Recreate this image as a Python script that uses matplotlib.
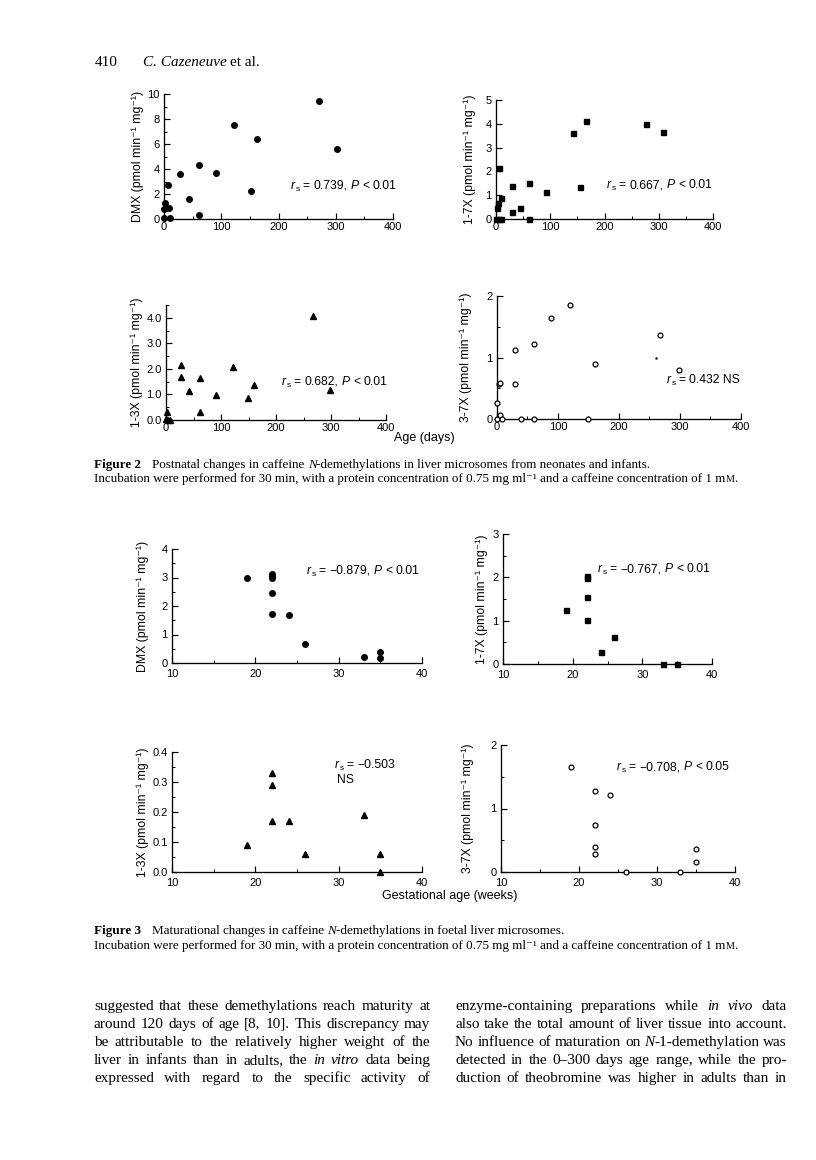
import numpy as np
import matplotlib
matplotlib.use('Agg')
import matplotlib.pyplot as plt
from matplotlib.ticker import MultipleLocator, FormatStrFormatter

W, H = 816, 1160
SANS = ['Liberation Sans', 'DejaVu Sans']
SERIF = ['Liberation Serif', 'DejaVu Serif']
plt.rcParams['font.family'] = SANS

# ---------------- Figure 2 data (postnatal age, days) ----------------
dmx_age = [0, 0, 2, 4, 7, 9, 10, 28, 44, 62, 62, 91, 122, 152, 163, 271, 302]
dmx_val = [0.8, 0.05, 1.25, 0.9, 2.7, 0.9, 0.05, 3.6, 1.6, 4.35, 0.33, 3.68, 7.5, 2.26, 6.4, 9.44, 5.62]

x17_age = [1, 3, 6, 9, 0, 5, 9, 29, 29, 44, 61, 61, 93, 142, 155, 165, 277, 308]
x17_val = [0.46, 0.67, 2.15, 0.88, 0.0, 0.0, 0.0, 1.37, 0.29, 0.46, 1.5, 0.0, 1.13, 3.6, 1.34, 4.13, 4.0, 3.65]

x13_age = [2, 0, 4, 8, 28, 28, 42, 61, 61, 91, 121, 149, 160, 268, 299]
x13_val = [0.3, 0.05, 0.0, 0.0, 2.15, 1.67, 1.13, 1.64, 0.3, 0.96, 2.06, 0.87, 1.35, 4.06, 1.17]

x37_age = [0, 0, 3, 5, 5, 8, 29, 29, 40, 60, 60, 89, 119, 150, 160, 268, 298]
x37_val = [0.26, 0.0, 0.57, 0.58, 0.07, 0.0, 1.12, 0.57, 0.0, 1.22, 0.0, 1.65, 1.85, 0.0, 0.9, 1.37, 0.8]
x37_faint_age = [261]
x37_faint_val = [1.0]

# ---------------- Figure 3 data (gestational age, weeks) ----------------
f_dmx_ga = [19, 22, 22, 22, 22, 22, 24, 26, 33, 35, 35]
f_dmx_val = [3.0, 3.13, 3.05, 3.0, 2.46, 1.73, 1.67, 0.67, 0.2, 0.4, 0.18]

f_x17_ga = [19, 22, 22, 22, 22, 24, 26, 33, 35]
f_x17_val = [1.25, 2.04, 1.98, 1.54, 1.02, 0.27, 0.62, 0.0, 0.0]

f_x13_ga = [19, 22, 22, 22, 24, 26, 33, 35, 35]
f_x13_val = [0.09, 0.33, 0.29, 0.17, 0.17, 0.06, 0.19, 0.06, 0.0]

f_x37_ga = [19, 22, 22, 22, 22, 24, 26, 33, 35, 35]
f_x37_val = [1.66, 1.27, 0.74, 0.40, 0.29, 1.22, 0.0, 0.0, 0.36, 0.16]

fig = plt.figure(figsize=(W / 100, H / 100), dpi=100)
fig.patch.set_facecolor('white')
renderer = fig.canvas.get_renderer()


def fx(px):
    return px / W


def fy(py):
    return 1 - py / H


def make_ax(x0, x1, ytop, ybot, xlim, ylim, xmaj, xmin, ymaj, ymin, yfmt, xpad=2.5):
    ax = fig.add_axes([fx(x0), fy(ybot), (x1 - x0) / W, (ybot - ytop) / H])
    ax.set_xlim(*xlim)
    ax.set_ylim(*ylim)
    ax.set_facecolor('none')
    for s in ['top', 'right']:
        ax.spines[s].set_visible(False)
    for s in ['left', 'bottom']:
        ax.spines[s].set_linewidth(0.95)
    ax.xaxis.set_major_locator(MultipleLocator(xmaj))
    ax.xaxis.set_minor_locator(MultipleLocator(xmin))
    ax.yaxis.set_major_locator(MultipleLocator(ymaj))
    if ymin:
        ax.yaxis.set_minor_locator(MultipleLocator(ymin))
    ax.yaxis.set_major_formatter(FormatStrFormatter(yfmt))
    ax.tick_params(which='major', direction='in', length=4, width=0.85, labelsize=8)
    ax.tick_params(axis='x', which='major', pad=xpad)
    ax.tick_params(axis='y', which='major', pad=3)
    ax.tick_params(which='minor', direction='in', length=2.5, width=0.75)
    return ax


def ylabel(text, x, ytop, ybot):
    fig.text(fx(x), fy((ytop + ybot) / 2), text, rotation=90, ha='center',
             va='center', fontsize=8.8, family=SANS)


def text_width(t):
    return t.get_window_extent(renderer).width


def place(x, y, tokens):
    """tokens: (text, kwargs, gap_after_px); kwargs may hold 'dy' (px, down)."""
    for text, kw, gap in tokens:
        kw = dict(kw)
        dy = kw.pop('dy', 0)
        t = fig.text(fx(x), fy(y + dy), text, va='baseline', ha='left', **kw)
        x += text_width(t) + gap
    return x


def space_w(**kw):
    a = fig.text(0, 0, 'a a', **kw)
    b = fig.text(0, 0, 'aa', **kw)
    w = text_width(a) - text_width(b)
    a.remove()
    b.remove()
    return w


RS_FS = 8.7
SP_SANS = space_w(fontsize=RS_FS, family=SANS)


def rs_label(x, y, value, rest=None):
    base = dict(fontsize=RS_FS, family=SANS)
    toks = [('r', dict(base, style='italic'), 0.3),
            ('s', dict(fontsize=6, family=SANS, dy=2), SP_SANS),
            ('=', base, SP_SANS)]
    if rest is None:
        toks.append((value, base, 0))
    else:
        toks.append((value + ',', base, SP_SANS))
        toks.append(('P', dict(base, style='italic'), SP_SANS))
        toks.append(('<', base, SP_SANS))
        toks.append((rest, base, 0))
    place(x, y, toks)


MK = dict(linestyle='none', color='black', clip_on=False, zorder=3)

# ---------------- Figure 2 panels ----------------
ax = make_ax(164, 393, 94, 219, (0, 400), (0, 10), 100, 50, 2, 1, '%d')
ax.plot(dmx_age, dmx_val, marker='o', ms=4.0, **MK)
ylabel('DMX (pmol min⁻¹ mg⁻¹)', 138, 94, 219)
rs_label(291, 189, '0.739', '0.01')

ax = make_ax(496, 713, 100, 219, (0, 400), (0, 5), 100, 50, 1, None, '%d')
ax.plot(x17_age, x17_val, marker='s', ms=3.6, **MK)
ylabel('1-7X (pmol min⁻¹ mg⁻¹)', 470, 100, 219)
rs_label(607, 188, '0.667', '0.01')

ax = make_ax(166, 386, 305, 420, (0, 400), (0, 4.5), 100, 50, 1.0, 0.5, '%.1f')
ax.plot(x13_age, x13_val, marker='^', ms=4.3, **MK)
ylabel('1-3X (pmol min⁻¹ mg⁻¹)', 137, 305, 420)
rs_label(282, 385, '0.682', '0.01')

ax = make_ax(497, 741, 296, 419, (0, 400), (0, 2), 100, 50, 1, 0.5, '%d')
ax.plot(x37_age, x37_val, marker='o', ms=3.5, mfc='white', mec='black', mew=0.9, **MK)
ax.plot(x37_faint_age, x37_faint_val, marker='.', ms=1.5, **MK)
ylabel('3-7X (pmol min⁻¹ mg⁻¹)', 466, 296, 419)
rs_label(667, 383, '0.432 NS')

fig.text(fx(424), fy(441), 'Age (days)', ha='center', va='baseline', fontsize=9, family=SANS)

# ---------------- Figure 3 panels ----------------
ax = make_ax(172, 422, 549, 663, (10, 40), (0, 4), 10, 5, 1, 0.5, '%d', xpad=4)
ax.plot(f_dmx_ga, f_dmx_val, marker='o', ms=4.0, **MK)
ylabel('DMX (pmol min⁻¹ mg⁻¹)', 143, 549, 663)
rs_label(307, 574, '\u22120.879', '0.01')

ax = make_ax(503, 712, 534, 664, (10, 40), (0, 3), 10, 5, 1, 0.5, '%d', xpad=4)
ax.plot(f_x17_ga, f_x17_val, marker='s', ms=3.6, **MK)
ylabel('1-7X (pmol min⁻¹ mg⁻¹)', 482, 534, 664)
rs_label(598, 572, '\u22120.767', '0.01')

ax = make_ax(172, 422, 752, 872, (10, 40), (0, 0.4), 10, 5, 0.1, 0.05, '%.1f', xpad=4)
ax.plot(f_x13_ga, f_x13_val, marker='^', ms=4.3, **MK)
ylabel('1-3X (pmol min⁻¹ mg⁻¹)', 143, 752, 872)
rs_label(335, 768, '\u22120.503')
fig.text(fx(337), fy(783), 'NS', ha='left', va='baseline', fontsize=RS_FS, family=SANS)

ax = make_ax(501, 735, 745, 872, (10, 40), (0, 2), 10, 5, 1, 0.5, '%d', xpad=4)
ax.plot(f_x37_ga, f_x37_val, marker='o', ms=3.5, mfc='white', mec='black', mew=0.9, **MK)
ylabel('3-7X (pmol min⁻¹ mg⁻¹)', 468, 745, 872)
rs_label(617, 770, '\u22120.708', '0.05')

fig.text(fx(450), fy(899), 'Gestational age (weeks)', ha='center', va='baseline',
         fontsize=9, family=SANS)

# ---------------- Running head ----------------
fig.text(fx(95), fy(66), '410', ha='left', va='baseline', fontsize=11, family=SERIF)
place(143, 66, [('C. Cazeneuve', dict(fontsize=11, family=SERIF, style='italic'), 3.5),
                ('et al.', dict(fontsize=11, family=SERIF), 0)])

# ---------------- Captions ----------------
CAP = dict(fontsize=9.45, family=SERIF)
SP_CAP = space_w(**CAP)


def caption(y1, y2, num, title_a, title_b):
    place(94, y1, [('Figure %d' % num, dict(CAP, weight='bold'), 11),
                   (title_a, CAP, SP_CAP),
                   ('N', dict(CAP, style='italic'), 0),
                   (title_b, CAP, 0)])
    place(94, y2, [('Incubation were performed for 30 min, with a protein concentration of '
                    '0.75 mg ml⁻¹ and a caffeine concentration of 1 m', CAP, 0),
                   ('M', dict(fontsize=7.3, family=SERIF), 0),
                   ('.', CAP, 0)])


caption(468, 482, 2, 'Postnatal changes in caffeine',
        '-demethylations in liver microsomes from neonates and infants.')
caption(934, 949, 3, 'Maturational changes in caffeine',
        '-demethylations in foetal liver microsomes.')

# ---------------- Body text (justified) ----------------
BODY = dict(fontsize=11.0, family=SERIF)
left_lines = [
    'suggested that these demethylations reach maturity at',
    'around 120 days of age [8, 10]. This discrepancy may',
    'be attributable to the relatively higher weight of the',
    'liver in infants than in adults, the *in* *vitro* data being',
    'expressed with regard to the specific activity of',
]
right_lines = [
    'enzyme-containing preparations while *in* *vivo* data',
    'also take the total amount of liver tissue into account.',
    'No influence of maturation on *N*-1-demethylation was',
    'detected in the 0\u2013300 days age range, while the pro-',
    'duction of theobromine was higher in adults than in',
]


def justify(x0, x1, y, line):
    words = line.split(' ')
    groups = []
    for w in words:
        if w.startswith('*'):
            end = w.index('*', 1)
            parts = [(w[1:end], 'italic')]
            if w[end + 1:]:
                parts.append((w[end + 1:], 'normal'))
        else:
            parts = [(w, 'normal')]
        texts = [fig.text(0, 0, p, style=st, va='baseline', ha='left', **BODY) for p, st in parts]
        groups.append(texts)
    widths = [sum(text_width(t) for t in g) for g in groups]
    gap = (x1 - x0 - sum(widths)) / (len(groups) - 1)
    x = x0
    for g, wd in zip(groups, widths):
        xx = x
        for t in g:
            t.set_position((fx(xx), fy(y)))
            xx += text_width(t)
        x += wd + gap


for i, ln in enumerate(left_lines):
    justify(94, 430, 1010 + 18 * i, ln)
for i, ln in enumerate(right_lines):
    justify(455, 787, 1010 + 18 * i, ln)

fig.savefig('out.png', dpi=100, facecolor='white')
